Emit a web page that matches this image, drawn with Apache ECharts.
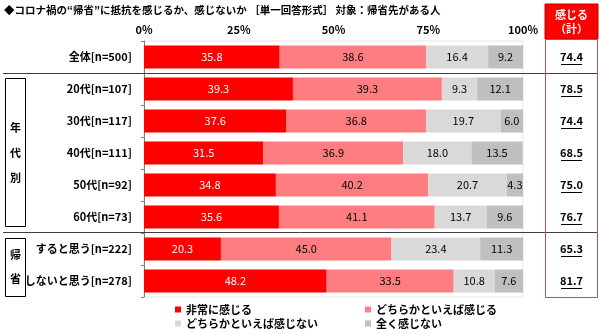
<!DOCTYPE html>
<html><head><meta charset="utf-8">
<script src="https://cdn.jsdelivr.net/npm/echarts@6/dist/echarts.min.js"></script>
<style>html,body{margin:0;padding:0;background:#fff}#c{width:600px;height:334px}</style>
</head><body><div id="c"></div>
<script>
const categories = ['全体[n=500]','20代[n=107]','30代[n=117]','40代[n=111]','50代[n=92]','60代[n=73]','すると思う[n=222]','しないと思う[n=278]'];
const seriesNames = ['非常に感じる','どちらかといえば感じる','どちらかといえば感じない','全く感じない'];
const veryMuch = [35.8,39.3,37.6,31.5,34.8,35.6,20.3,48.2];
const somewhat = [38.6,39.3,36.8,36.9,40.2,41.1,45.0,33.5];
const notMuch = [16.4,9.3,19.7,18.0,20.7,13.7,23.4,10.8];
const notAtAll = [9.2,12.1,6.0,13.5,4.3,9.6,11.3,7.6];
const feelTotal = [74.4,78.5,74.4,68.5,75.0,76.7,65.3,81.7];
const xTickValues = [0,25,50,75,100];

const FONT = '"Noto Sans CJK JP", "Noto Sans", sans-serif';
const colors = ['#FF0000','#FF7C80','#D9D9D9','#BFBFBF'];
const labelColors = ['#FFFFFF','#000000','#000000','#000000'];
const valueSets = [veryMuch, somewhat, notMuch, notAtAll];

const chart = echarts.init(document.getElementById('c'), null, {renderer:'canvas'});

const barSeries = valueSets.map((vals, k) => ({
  name: seriesNames[k],
  type: 'bar',
  stack: 'total',
  xAxisIndex: 0, yAxisIndex: 0,
  barWidth: 23,
  data: vals,
  itemStyle: {color: colors[k]},
  label: {
    show: true, position: 'inside',
    color: labelColors[k], fontFamily: FONT, fontSize: 11,
    formatter: p => p.value.toFixed(1)
  },
  emphasis: {disabled: true},
  silent: true
}));

const totalSeries = {
  type: 'custom',
  xAxisIndex: 1, yAxisIndex: 1,
  data: feelTotal.map((v, i) => [0, i, v]),
  renderItem: (params, api) => {
    const pt = api.coord([api.value(0), api.value(1)]);
    const txt = api.value(2).toFixed(1);
    const w = 21;
    return {
      type: 'group',
      children: [
        {type: 'text', style: {x: pt[0], y: pt[1], text: txt, align: 'center', verticalAlign: 'middle',
          fill: '#000', font: 'bold 11px ' + FONT}},
        {type: 'line', shape: {x1: pt[0] - w/2, y1: pt[1] + 7.5, x2: pt[0] + w/2, y2: pt[1] + 7.5},
          style: {stroke: '#000', lineWidth: 1}}
      ]
    };
  },
  silent: true
};

const legendPos = [[175, 304], [365, 304], [175, 318], [365, 318]];
const legends = seriesNames.map((n, k) => ({
  data: [n], left: legendPos[k][0], top: legendPos[k][1], padding: 0,
  itemWidth: 6, itemHeight: 6, icon: 'rect', selectedMode: false,
  textStyle: {fontFamily: FONT, fontSize: 11, fontWeight: 'bold', color: '#000'}
}));

const option = {
  animation: false,
  backgroundColor: '#fff',
  textStyle: {fontFamily: FONT},
  grid: [
    {left: 144, right: 77, top: 41, bottom: 37, show: true, borderColor: '#E6E6E6', borderWidth: 1},
    {left: 545, right: 2, top: 41, bottom: 37}
  ],
  xAxis: [
    {type: 'value', gridIndex: 0, position: 'top', min: 0, max: 100, interval: 25,
      axisLine: {show: false}, axisTick: {show: false}, splitLine: {show: false},
      axisLabel: {margin: 6, fontFamily: FONT, fontSize: 11, fontWeight: 'bold', color: '#000',
        formatter: v => xTickValues.includes(v) ? v + '%' : ''}},
    {type: 'category', gridIndex: 1, data: ['計'], show: false}
  ],
  yAxis: [
    {type: 'category', gridIndex: 0, data: categories, inverse: true,
      axisLine: {show: true, lineStyle: {color: '#808080'}},
      axisTick: {show: true, length: 3, lineStyle: {color: '#808080'}},
      axisLabel: {margin: 12, fontFamily: FONT, fontSize: 11, fontWeight: 'bold', color: '#000'}},
    {type: 'category', gridIndex: 1, data: categories, inverse: true, show: false}
  ],
  legend: legends,
  series: [...barSeries, totalSeries],
  graphic: [
    {type: 'text', left: 4, top: 5, style: {text: '◆コロナ禍の“帰省”に抵抗を感じるか、感じないか ［単一回答形式］ 対象：帰省先がある人',
      font: 'bold 10.5px ' + FONT, fill: '#000'}},
    {type: 'line', shape: {x1: 3, y1: 73.5, x2: 598, y2: 73.5}, style: {stroke: '#404040', lineWidth: 1}, z: 10},
    {type: 'line', shape: {x1: 3, y1: 232.5, x2: 598, y2: 232.5}, style: {stroke: '#404040', lineWidth: 1}, z: 10},
    {type: 'rect', shape: {x: 5.5, y: 78.5, width: 20, height: 148}, style: {fill: 'none', stroke: '#000', lineWidth: 1}},
    {type: 'rect', shape: {x: 5.5, y: 238.5, width: 20, height: 58}, style: {fill: 'none', stroke: '#000', lineWidth: 1}},
    {type: 'text', x: 15.5, y: 128, style: {text: '年', align: 'center', verticalAlign: 'middle', font: 'bold 11px ' + FONT, fill: '#000'}},
    {type: 'text', x: 15.5, y: 153, style: {text: '代', align: 'center', verticalAlign: 'middle', font: 'bold 11px ' + FONT, fill: '#000'}},
    {type: 'text', x: 15.5, y: 178, style: {text: '別', align: 'center', verticalAlign: 'middle', font: 'bold 11px ' + FONT, fill: '#000'}},
    {type: 'text', x: 15.5, y: 255, style: {text: '帰', align: 'center', verticalAlign: 'middle', font: 'bold 11px ' + FONT, fill: '#000'}},
    {type: 'text', x: 15.5, y: 279, style: {text: '省', align: 'center', verticalAlign: 'middle', font: 'bold 11px ' + FONT, fill: '#000'}},
    {type: 'rect', shape: {x: 545, y: 4, width: 53, height: 35}, style: {fill: '#FF0000', stroke: '#C00000', lineWidth: 1}},
    {type: 'text', x: 571.5, y: 15, style: {text: '感じる', align: 'center', verticalAlign: 'middle', font: 'bold 11px ' + FONT, fill: '#fff'}},
    {type: 'text', x: 571.5, y: 29, style: {text: '（計）', align: 'center', verticalAlign: 'middle', font: 'bold 11px ' + FONT, fill: '#fff'}},
    {type: 'rect', shape: {x: 545.5, y: 39.5, width: 52, height: 258}, style: {fill: 'none', stroke: '#C0504D', lineWidth: 1}, z: 11}
  ]
};
chart.setOption(option);
</script></body></html>
